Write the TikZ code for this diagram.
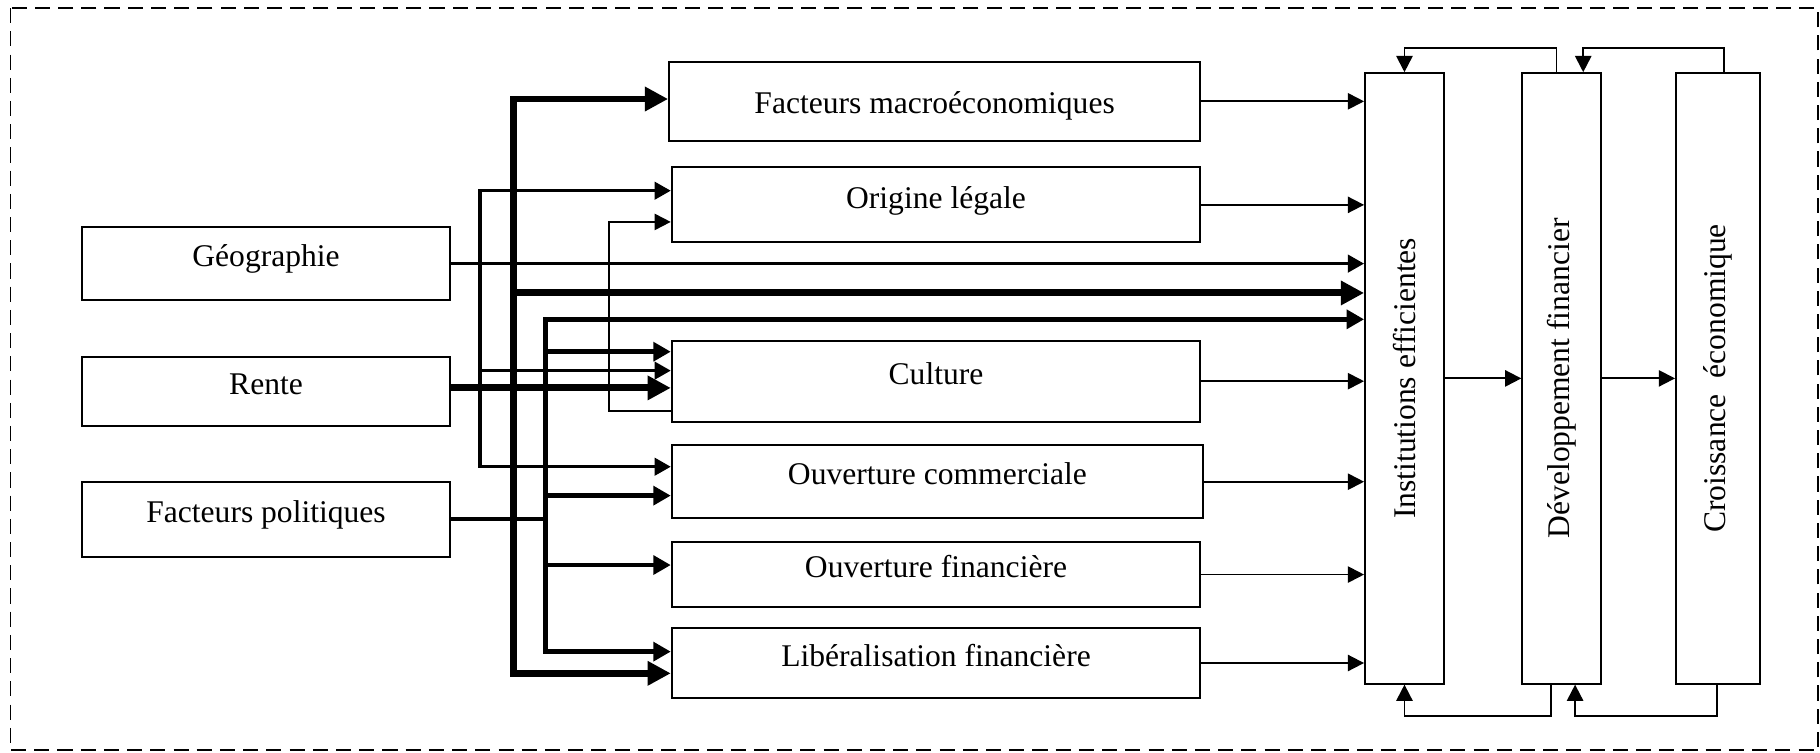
\documentclass[tikz,border=0pt]{standalone}
\usepackage{fontspec}
\setmainfont{Liberation Serif}
\usepackage{tikz}
\usetikzlibrary{arrows.meta}

\begin{document}
\begin{tikzpicture}[x=0.5pt,y=0.5pt,yscale=-1,xscale=1,
  boite/.style={draw, line width=0.8pt, inner sep=2pt, font=\fontsize{13.6}{16}\selectfont},
  boiteh/.style={boite, text height=0.68em, text depth=0.4em},
  boitev/.style={boite, minimum width=34pt, minimum height=263pt},
  fleche/.style={line width=0.8pt, -{Triangle[length=7pt,width=7pt]}},
  flechem/.style={line width=1.4pt, -{Triangle[length=7pt,width=7.5pt]}},
  flechec/.style={line width=1.9pt, -{Triangle[length=7.5pt,width=8pt]}},
  flecheg/.style={line width=3pt, -{Triangle[length=10pt,width=10pt]}}]
\useasboundingbox (0,0) rectangle (1568,648);

%Dashed frame
\draw [line width=0.8pt, dash pattern=on 6.5pt off 3.5pt] (9,7) rectangle (1566.5,646.5);

% Left boxes
\node [boiteh, minimum width=158.6pt, minimum height=31.5pt] (geo) at (229.2,227.1) {Géographie};
\node [boiteh, minimum width=158.6pt, minimum height=29.9pt] (rente) at (229.2,337.2) {Rente};
\node [boiteh, minimum width=158.6pt, minimum height=32.3pt] (polit) at (229.2,447.3) {Facteurs politiques};

% Middle boxes
\node [boite, text height=1.04em, text depth=0pt, minimum width=228.8pt, minimum height=34.2pt] (macro) at (805.2,87.3) {Facteurs macroéconomiques};
\node [boiteh, minimum width=227.7pt, minimum height=32.3pt] (orig) at (806.4,176.5) {Origine légale};
\node [boiteh, minimum width=227.7pt, minimum height=34.9pt] (cult) at (806.4,328.4) {Culture};
\node [boiteh, minimum width=228.9pt, minimum height=31.6pt] (ouvc) at (807.6,415) {Ouverture commerciale};
\node [boiteh, minimum width=227.7pt, minimum height=27.8pt] (ouvf) at (806.4,495) {Ouverture financière};
\node [boiteh, minimum width=227.7pt, minimum height=30.4pt] (lib) at (806.4,571.2) {Libéralisation financière};

% Right boxes
\node [boitev] (inst) at (1210,326) {\rotatebox{90}{Institutions efficientes}};
\node [boitev] (dev) at (1345.5,326) {\rotatebox{90}{Développement financier}};
\node [boitev, minimum width=36.3pt] (croiss) at (1480.2,326) {\rotatebox{90}{Croissance\ \ économique}};

% Bus points
\coordinate (a1) at (413.5,164.3);
\coordinate (a2) at (413.5,319.3);
\coordinate (a3) at (413.5,402.1);
\coordinate (b1) at (442.3,85.3);
\coordinate (b2) at (442.3,252.4);
\coordinate (b3) at (442.3,580.1);
\coordinate (c1) at (469.8,275.1);
\coordinate (c2) at (469.8,303);
\coordinate (c3) at (469.8,427);
\coordinate (c4) at (469.8,486.8);
\coordinate (c5) at (469.8,561.4);
\coordinate (d1) at (525,354.1);
\coordinate (d2) at (525,191.2);
\coordinate (rsort) at ([yshift=-1.5pt]rente.east);

%Straight Lines: geographie
\draw [flechem] (geo.east) -- (geo.east -| inst.west);
%Straight Lines: rente
\draw [flecheg] (rsort) -- (rsort -| cult.west);
%Straight Lines: facteurs politiques
\draw [line width=1.9pt] (polit.east) -- (polit.east -| c1);

%Straight Lines: bus a
\draw [flechem] (a3) -- (a1) -- (a1 -| orig.west);
\draw [flechem] (a1) -- (a3) -- (a3 -| ouvc.west);
\draw [flechem] (a2) -- (a2 -| cult.west);

%Straight Lines: bus b
\draw [flecheg] (b3) -- (b1) -- (b1 -| macro.west);
\draw [flecheg] (b1) -- (b3) -- (b3 -| lib.west);
\draw [flecheg] (b2) -- (b2 -| inst.west);

%Straight Lines: bus c
\draw [flechec] (c5) -- (c1) -- (c1 -| inst.west);
\draw [flechec] (c1) -- (c5) -- (c5 -| lib.west);
\draw [flechec] (c2) -- (c2 -| cult.west);
\draw [flechec] (c3) -- (c3 -| ouvc.west);
\draw [flechec] (c4) -- (c4 -| ouvf.west);

%Straight Lines: culture back to origine
\draw [fleche] (d1 -| cult.west) -- (d1) -- (d2) -- (d2 -| orig.west);

%Straight Lines: middle to institutions
\draw [fleche] (macro.east) -- (macro.east -| inst.west);
\draw [fleche] (orig.east) -- (orig.east -| inst.west);
\draw [fleche] (cult.east) -- (cult.east -| inst.west);
\draw [fleche] (ouvc.east) -- (ouvc.east -| inst.west);
\draw [fleche] (ouvf.east) -- (ouvf.east -| inst.west);
\draw [fleche] (lib.east) -- (lib.east -| inst.west);

%Straight Lines: chain
\draw [fleche] (inst.east) -- (dev.west);
\draw [fleche] (dev.east) -- (croiss.west);

%Straight Lines: loops
\draw [fleche] ([xshift=-2.25pt]dev.north) -- ++(0,-21) -| (inst.north);
\draw [fleche] ([xshift=2.4pt]croiss.north) -- ++(0,-21) -| ([xshift=9.25pt]dev.north);
\draw [fleche] ([xshift=-4.75pt]dev.south) -- ++(0,27) -| (inst.south);
\draw [fleche] ([xshift=-0.6pt]croiss.south) -- ++(0,27) -| ([xshift=5.75pt]dev.south);

\end{tikzpicture}
\end{document}
